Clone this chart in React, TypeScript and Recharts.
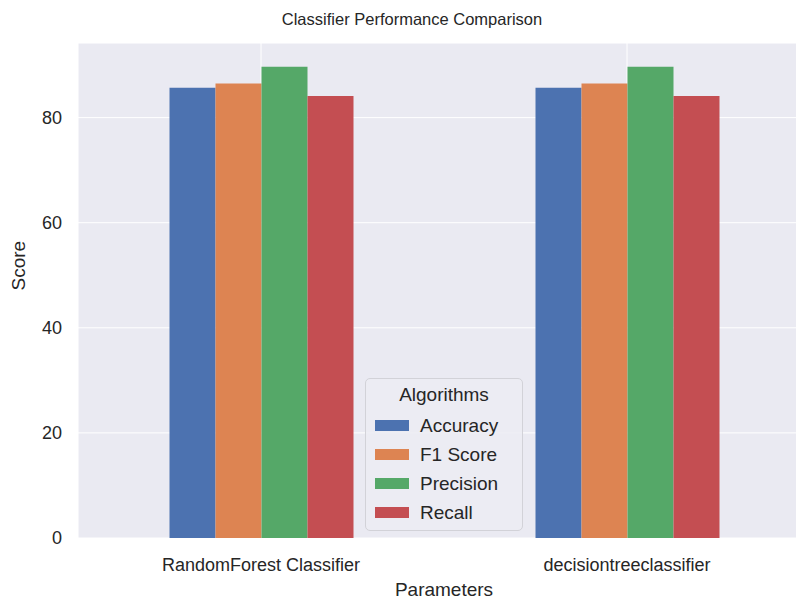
import React from 'react';
import { BarChart, Bar, XAxis, YAxis, CartesianGrid } from 'recharts';

const categories = ['RandomForest Classifier', 'decisiontreeclassifier'];
const accuracy = [85.7, 85.7];
const f1Score = [86.5, 86.5];
const precision = [89.7, 89.7];
const recall = [84.1, 84.1];
const yTicks = [0, 20, 40, 60, 80];

const SERIES = [
  { key: 'Accuracy', color: '#4C72B0' },
  { key: 'F1 Score', color: '#DD8452' },
  { key: 'Precision', color: '#55A868' },
  { key: 'Recall', color: '#C44E52' },
];

const data = categories.map((name, i) => ({
  name,
  Accuracy: accuracy[i],
  'F1 Score': f1Score[i],
  Precision: precision[i],
  Recall: recall[i],
}));

const FONT = '"Liberation Sans", Arial, sans-serif';
const TEXT = '#262626';

// legend is drawn as an overlay so it doesn't eat chart space (matplotlib loc="lower center")
function AlgoLegend() {
  return (
    <div
      style={{
        position: 'absolute',
        left: 365,
        top: 378,
        width: 158,
        height: 153,
        boxSizing: 'border-box',
        background: 'rgba(236,236,243,0.9)',
        border: '1px solid #D2D2D8',
        borderRadius: 5,
        fontFamily: FONT,
        color: TEXT,
        fontSize: 19,
        paddingTop: 5,
      }}
    >
      <div style={{ textAlign: 'center', fontSize: 19, height: 27 }}>Algorithms</div>
      {SERIES.map((s) => (
        <div key={s.key} style={{ display: 'flex', alignItems: 'center', height: 29 }}>
          <span style={{ width: 34, height: 11, background: s.color, marginLeft: 9, marginRight: 11 }} />
          <span>{s.key}</span>
        </div>
      ))}
    </div>
  );
}

export default function App() {
  return (
    <div
      style={{
        position: 'absolute',
        left: 0,
        top: 0,
        width: 796,
        height: 601,
        overflow: 'hidden',
        background: '#fff',
        fontFamily: FONT,
      }}
    >
      <div
        style={{
          position: 'absolute',
          top: 10,
          left: 212,
          width: 400,
          textAlign: 'center',
          fontSize: 16.5,
          color: TEXT,
        }}
      >
        Classifier Performance Comparison
      </div>
      <BarChart
        width={810}
        height={601}
        data={data}
        margin={{ top: 43, right: 0, bottom: 0, left: 0 }}
        barCategoryGap="25%"
        barGap={0}
      >
        <CartesianGrid fill="#EAEAF2" stroke="#FFFFFF" strokeWidth={1} />
        <XAxis
          dataKey="name"
          axisLine={false}
          tickLine={false}
          height={63}
          tickMargin={14}
          tick={{ fill: TEXT, fontSize: 18, fontFamily: FONT }}
          label={{ value: 'Parameters', position: 'insideBottom', offset: 5, fill: TEXT, fontSize: 19, fontFamily: FONT }}
        />
        <YAxis
          domain={[0, 94.2]}
          ticks={yTicks}
          width={78}
          axisLine={false}
          tickLine={false}
          tickMargin={10}
          allowDataOverflow
          tick={{ fill: TEXT, fontSize: 18, fontFamily: FONT }}
          label={{ value: 'Score', angle: -90, position: 'insideLeft', offset: 18, fill: TEXT, fontSize: 19, fontFamily: FONT }}
        />
        {SERIES.map((s) => (
          <Bar key={s.key} dataKey={s.key} fill={s.color} isAnimationActive={false} />
        ))}
      </BarChart>
      <AlgoLegend />
    </div>
  );
}
